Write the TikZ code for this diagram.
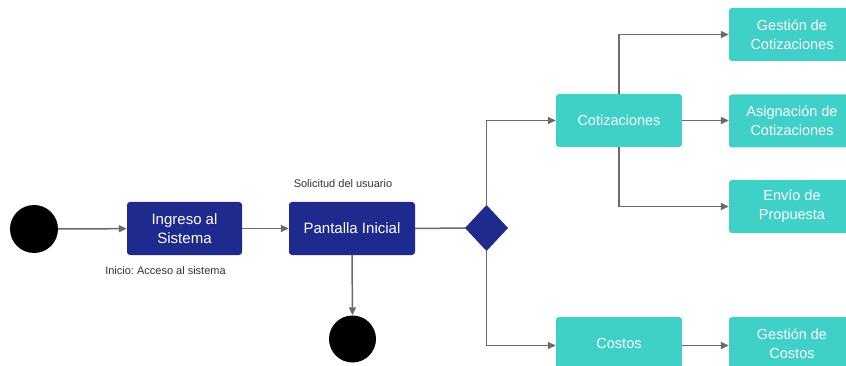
\documentclass[tikz,border=0pt]{standalone}
\usepackage{fontspec}
\setmainfont{Liberation Sans}
\usetikzlibrary{arrows.meta}
\definecolor{navy}{HTML}{1F2A8E}
\definecolor{teal}{HTML}{3FD0C7}
\definecolor{wire}{HTML}{6A6A6A}
\definecolor{note}{HTML}{333333}
\frenchspacing
\tikzset{
  navybox/.style={draw=none, fill=navy, rounded corners=3pt, text=white,
    minimum width=115pt, minimum height=53pt, align=center,
    font=\fontsize{15}{19}\selectfont},
  tealbox/.style={draw=none, fill=teal, rounded corners=3pt, text=white,
    minimum width=126pt, minimum height=53pt, align=center,
    font=\fontsize{14.5}{19}\selectfont},
  blob/.style={circle, fill=black, inner sep=0pt},
  note/.style={text=note, font=\fontsize{11}{13}\selectfont},
  link/.style={draw=wire, line width=1.5pt, -{Triangle[length=8pt,width=7pt]}},
  plain/.style={draw=wire, line width=1.5pt}
}
\begin{document}
\begin{tikzpicture}[x=1pt, y=-1pt]
  \clip (0,0) rectangle (846,366);
  \fill[white] (0,0) rectangle (846,366);

  % start and end states
  \node[blob, minimum size=48pt] (start) at (34,229) {};
  \node[blob, minimum size=47pt] (stop) at (352.5,339) {};

  % main actions
  \node[navybox] (ingreso) at (184.5,228.5) {Ingreso al\\Sistema};
  \node[navybox, minimum width=126pt] (pantalla) at (352,228.5) {Pantalla Inicial};

  % decision diamond
  \fill[navy] (486.5,205) coordinate (decN) -- (508,228) coordinate (decE)
    -- (486.5,251) coordinate (decS) -- (465,228) coordinate (decW) -- cycle;

  % notes
  \node[note] (solicitud) at (343,184) {Solicitud del usuario};
  \node[note] (inicio) at (165.5,271) {Inicio: Acceso al sistema};

  % branches
  \node[tealbox] (cot) at (619,120.5) {Cotizaciones};
  \node[tealbox] (cos) at (619,343.5) {Costos};
  \node[tealbox] (gcot) at (792,34.5) {Gestión de\\Cotizaciones};
  \node[tealbox] (asig) at (792,121) {Asignación de\\Cotizaciones};
  \node[tealbox] (env) at (792,206.5) {Envío de\\Propuesta};
  \node[tealbox] (gcos) at (792,343.5) {Gestión de\\Costos};

  % connectors
  \draw[link] (start) -- (ingreso);
  \draw[link] (ingreso) -- (pantalla);
  \draw[plain] (pantalla.east) -- (decW);
  \draw[link] (pantalla.south) -- (stop.north);
  \draw[link] (decN) |- (cot.west);
  \draw[link] (decS) |- ([yshift=-2pt]cos.west);
  \draw[link] (cot.north) |- (gcot.west);
  \draw[link] (cot.east) -- (cot.east -| asig.west);
  \draw[link] (cot.south) |- (env.west);
  \draw[link] ([yshift=-2pt]cos.east) -- ([yshift=-2pt]gcos.west);
\end{tikzpicture}
\end{document}
